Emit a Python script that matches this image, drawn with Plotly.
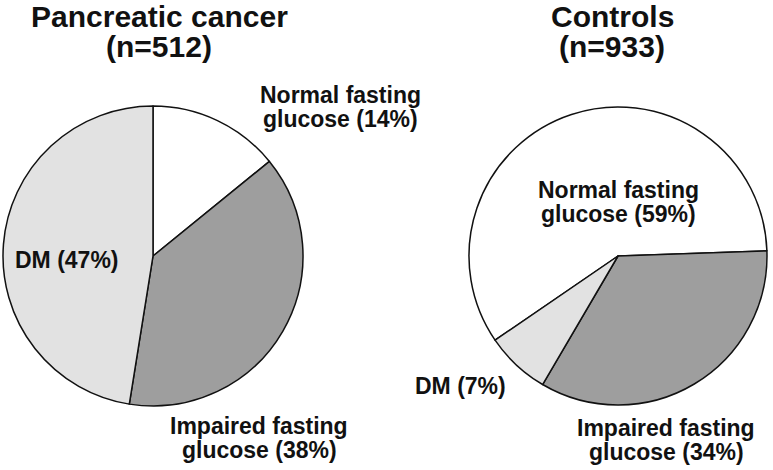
import plotly.graph_objects as go

W, H = 773, 470

# ---- data ----
categories = ["Normal fasting glucose", "Impaired fasting glucose", "DM"]
cancer_values = [14, 38, 47]
control_values = [59, 34, 7]
cancer_title = ["Pancreatic cancer", "(n=512)"]
control_title = ["Controls", "(n=933)"]

slice_colors = ["#ffffff", "#9e9e9e", "#e2e2e2"]
FONT = "Liberation Sans, Arial, sans-serif"
TXT = "#111111"

def px_x(x):
    return x / W

def px_y(y):
    return 1 - y / H

fig = go.Figure()

# left pie: center (153,256), r=150
fig.add_trace(go.Pie(
    labels=categories, values=cancer_values, sort=False,
    direction="clockwise", rotation=0,
    marker=dict(colors=slice_colors, line=dict(color="#111111", width=1.5)),
    textinfo="none", hoverinfo="label+percent", showlegend=False,
    domain=dict(x=[px_x(3), px_x(303)], y=[px_y(406), px_y(106)]),
))

# right pie: center (618,256), r=149
fig.add_trace(go.Pie(
    labels=categories, values=control_values, sort=False,
    direction="clockwise", rotation=235.6,
    marker=dict(colors=slice_colors, line=dict(color="#111111", width=1.5)),
    textinfo="none", hoverinfo="label+percent", showlegend=False,
    domain=dict(x=[px_x(469), px_x(767)], y=[px_y(405), px_y(107)]),
))

def lbl(cat, val):
    # split category name into the two printed lines
    if cat == "DM":
        return [f"DM ({val}%)"]
    words = cat.split(" ")
    return [" ".join(words[:2]), f"{words[2]} ({val}%)"]

annotations = []

def add_lines(lines, cx, ys, size):
    for line, y in zip(lines, ys):
        annotations.append(dict(
            text=f"<b>{line}</b>", x=px_x(cx), y=px_y(y), xref="paper", yref="paper",
            xanchor="center", yanchor="middle", showarrow=False, borderpad=0,
            font=dict(family=FONT, size=size, color=TXT),
        ))

# titles
add_lines(cancer_title, 159, [16, 47], 30)
add_lines(control_title, 612, [16, 47], 30)

# left pie labels
add_lines(lbl(categories[0], cancer_values[0]), 340, [95, 119], 23)
add_lines(lbl(categories[2], cancer_values[2]), 67, [260], 23)
add_lines(lbl(categories[1], cancer_values[1]), 259, [426, 450], 23)

# right pie labels
add_lines(lbl(categories[0], control_values[0]), 618, [190, 214], 23)
add_lines(lbl(categories[2], control_values[2]), 461, [386], 23)
add_lines(lbl(categories[1], control_values[1]), 666, [428, 452], 23)

fig.update_layout(
    width=W, height=H,
    margin=dict(l=0, r=0, t=0, b=0),
    paper_bgcolor="white", plot_bgcolor="white",
    annotations=annotations,
)

fig.write_html("out.html", config={"displayModeBar": False},
               post_script="document.body.style.margin='0';")
